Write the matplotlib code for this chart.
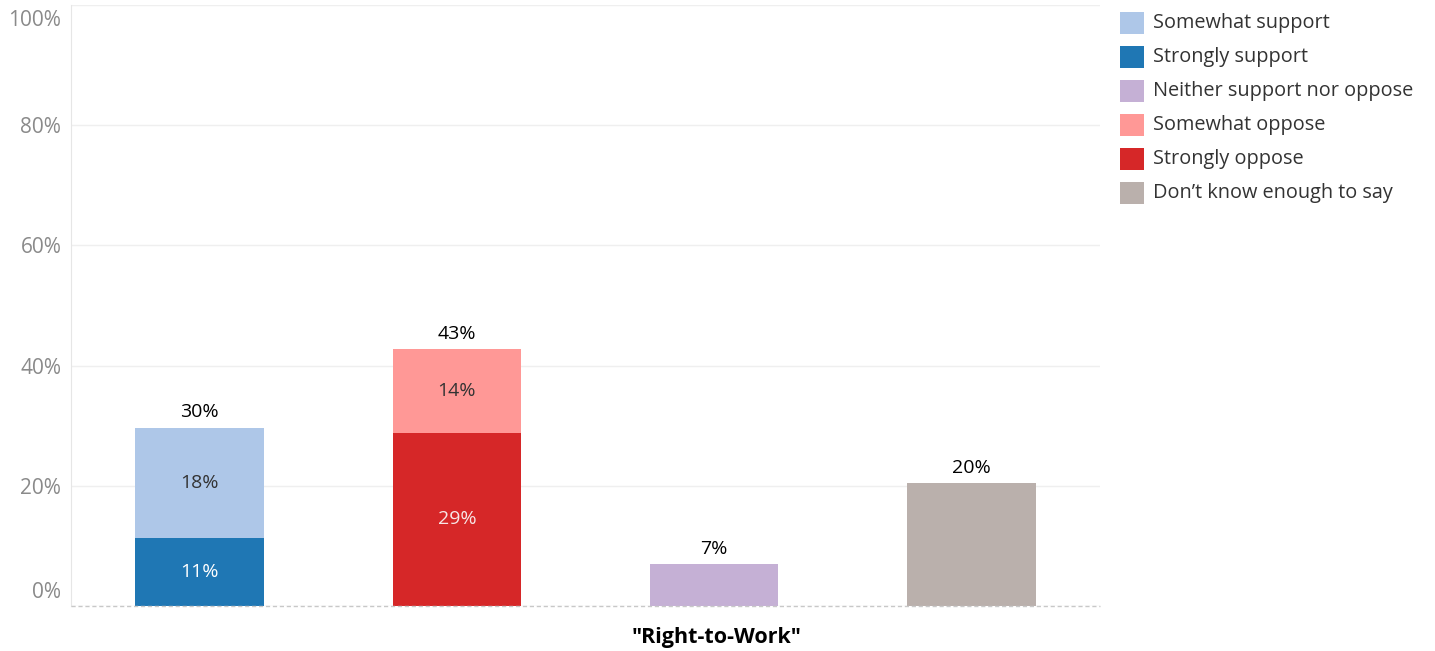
import matplotlib
matplotlib.use("Agg")
import matplotlib.pyplot as plt
from matplotlib.patches import Rectangle
from matplotlib.transforms import ScaledTranslation

plt.rcParams['font.family'] = ['Open Sans', 'DejaVu Sans']

# Data
groups = ["Support", "Oppose", "Neither", "Don't know"]
strongly_support = 11.3
somewhat_support = 18.4
strongly_oppose = 28.8
somewhat_oppose = 13.9
neither = 7.0
dont_know = 20.4

legend_names = ["Somewhat support", "Strongly support", "Neither support nor oppose",
                "Somewhat oppose", "Strongly oppose", "Don\u2019t know enough to say"]
legend_colors = ["#aec7e8", "#1f77b4", "#c5b0d5", "#ff9896", "#d62728", "#bab0ac"]
col = dict(zip(legend_names, legend_colors))

yticks = [0, 20, 40, 60, 80, 100]
ytick_labels = ["0%", "20%", "40%", "60%", "80%", "100%"]
xlabel = '"Right-to-Work"'

W, H = 1435, 651
fig = plt.figure(figsize=(W / 100, H / 100), dpi=100)
ax = fig.add_axes([71 / W, (H - 606) / H, (1100 - 71) / W, (606 - 5) / H])

bw = 0.5
segments = [
    (0, 0, strongly_support, "Strongly support", "white"),
    (0, strongly_support, somewhat_support, "Somewhat support", "#333333"),
    (1, 0, strongly_oppose, "Strongly oppose", "#f7e6e6"),
    (1, strongly_oppose, somewhat_oppose, "Somewhat oppose", "#333333"),
    (2, 0, neither, "Neither support nor oppose", None),
    (3, 0, dont_know, "Don\u2019t know enough to say", None),
]
totals = {}
for x, b, h, name, tc in segments:
    ax.bar(x, h, bottom=b, width=bw, color=col[name], linewidth=0, zorder=3)
    totals[x] = totals.get(x, 0) + h
    if tc is not None:
        ax.text(x, b + h / 2, f"{round(h)}%", ha="center", va="center",
                fontsize=14, color=tc, zorder=4)
for x, t in totals.items():
    ax.text(x, t + 1.0, f"{round(t)}%", ha="center", va="bottom",
            fontsize=14, color="black", zorder=4)

ax.set_xlim(-0.5, 3.5)
ax.set_ylim(0, 100)
ax.set_xticks([])
ax.set_yticks(yticks)
ax.set_yticklabels(ytick_labels)
ax.tick_params(axis="y", length=0, labelsize=15, labelcolor="#8a8a8a", pad=7)
labels = ax.get_yticklabels()
labels[0].set_va("bottom")
labels[0].set_transform(labels[0].get_transform() + ScaledTranslation(0, 3 / 100, fig.dpi_scale_trans))
labels[-1].set_va("top")
labels[-1].set_transform(labels[-1].get_transform() + ScaledTranslation(0, -5 / 100, fig.dpi_scale_trans))
ax.grid(axis="y", color="#efefef", linewidth=1, zorder=0)
for s in ["top", "right", "bottom"]:
    ax.spines[s].set_visible(False)
ax.spines["left"].set_color("#e6e6e6")
ax.axhline(0, color="#c8c8c8", linewidth=1, linestyle=(0, (3, 2)), zorder=5, clip_on=False)

fig.text(717 / W, (H - 638) / H, xlabel, ha="center", va="center",
         fontsize=15.5, fontweight="bold", color="black")

# legend
for i, (name, c) in enumerate(zip(legend_names, legend_colors)):
    yc = 23 + 34 * i
    fig.patches.append(Rectangle((1120 / W, (H - yc - 11) / H), 24 / W, 22 / H,
                                 transform=fig.transFigure, color=c, linewidth=0))
    fig.text(1153 / W, (H - yc) / H, name, ha="left", va="center",
             fontsize=14.3, color="#333333")

fig.savefig("out.png", dpi=100)
